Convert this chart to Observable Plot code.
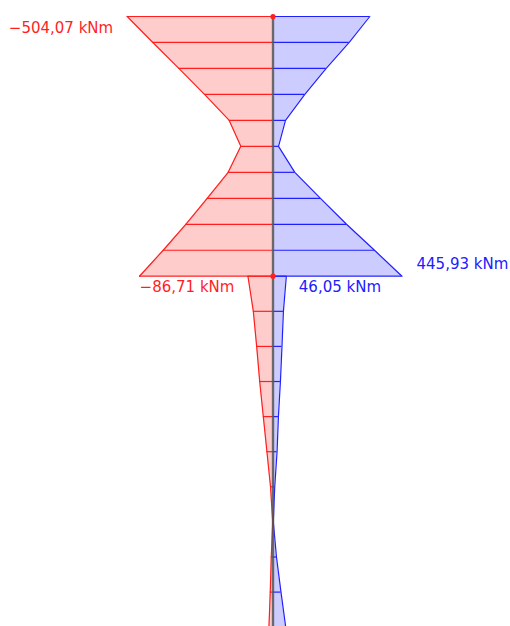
<!DOCTYPE html>
<html><head><meta charset="utf-8">
<script src="https://cdn.jsdelivr.net/npm/d3@7"></script>
<script src="https://cdn.jsdelivr.net/npm/@observablehq/plot@0.6"></script>
<style>html,body{margin:0;padding:0;background:#fff}</style>
</head><body><div id="chart"></div>
<script>
// stations along the member (m), upper member 0–3.7, lower member 3.7–8.7
const upperPos = [0, 0.37, 0.74, 1.11, 1.48, 1.85, 2.22, 2.59, 2.96, 3.33, 3.7];
const upperMin = [-504.07, -415.5, -325.6, -236.8, -151.4, -111.3, -154.9, -227.5, -301.4, -379.5, -461.5];
const upperMax = [334.6, 263.4, 183.9, 109.9, 43.2, 19.0, 75.4, 164.2, 254.1, 350.8, 445.93];

const lowerPos = [3.7, 4.2, 4.7, 5.2, 5.7, 6.2, 6.7, 7.2, 7.7, 8.2, 8.7];
const lowerMin = [-86.71, -68, -56.5, -46, -33.5, -21, -8.6, -1, -6, -9.5, -14];
const lowerMax = [46.05, 36, 31, 25.6, 18.7, 14, 6, 1, 12, 27.6, 44];

const labelText = ["−504,07 kNm", "445,93 kNm", "−86,71 kNm", "46,05 kNm"];
const labelX = [-504.07, 445.93, -86.71, 46.05];
const labelY = [0, 3.7, 3.7, 3.7];

const rows = [
  ...upperPos.map((p, i) => ({member: "upper", pos: p, min: upperMin[i], max: upperMax[i]})),
  ...lowerPos.map((p, i) => ({member: "lower", pos: p, min: lowerMin[i], max: lowerMax[i]}))
];
const labels = labelText.map((t, i) => ({t, x: labelX[i], y: labelY[i]}));

const RED = "#ff1f1f", BLUE = "#2020ff";
const font = "DejaVu Sans";

const chart = Plot.plot({
  width: 510, height: 626,
  marginTop: 0, marginBottom: 0, marginLeft: 0, marginRight: 0,
  style: {fontFamily: font, background: "#fff"},
  x: {domain: [-504.07, 445.93], range: [126.7, 401.5], axis: null},
  y: {domain: [0, 8.7], range: [16, 626.7], axis: null},
  marks: [
    Plot.areaX(rows, {y: "pos", x1: 0, x2: "min", z: "member", fill: "#ffcccc", clip: true}),
    Plot.areaX(rows, {y: "pos", x1: 0, x2: "max", z: "member", fill: "#ccccff", clip: true}),
    Plot.ruleY(rows, {y: "pos", x1: 0, x2: "min", stroke: RED, strokeWidth: 1.2, clip: true}),
    Plot.ruleY(rows, {y: "pos", x1: 0, x2: "max", stroke: BLUE, strokeWidth: 1.2, clip: true}),
    Plot.lineX(rows, {y: "pos", x: "min", z: "member", stroke: RED, strokeWidth: 1.2, clip: true}),
    Plot.lineX(rows, {y: "pos", x: "max", z: "member", stroke: BLUE, strokeWidth: 1.2, clip: true}),
    Plot.ruleX([0], {y1: 0, y2: 8.7, stroke: "#555", strokeWidth: 2.4, strokeOpacity: 0.85, clip: true}),
    Plot.dot([{p: 0}, {p: 3.7}], {x: 0, y: "p", r: 2.6, fill: RED, stroke: "none"}),
    Plot.text(labels.filter((d, i) => i === 0), {x: "x", y: "y", text: "t", fill: RED, fontSize: 15, textAnchor: "end", dx: -14, dy: 12}),
    Plot.text(labels.filter((d, i) => i === 1), {x: "x", y: "y", text: "t", fill: BLUE, fontSize: 15, textAnchor: "start", dx: 14.5, dy: -12.5}),
    Plot.text(labels.filter((d, i) => i === 2), {x: "x", y: "y", text: "t", fill: RED, fontSize: 15, textAnchor: "end", dx: -13.5, dy: 10.5}),
    Plot.text(labels.filter((d, i) => i === 3), {x: "x", y: "y", text: "t", fill: BLUE, fontSize: 15, textAnchor: "start", dx: 12.5, dy: 10.5})
  ]
});
document.getElementById("chart").appendChild(chart);
</script>
</body></html>
